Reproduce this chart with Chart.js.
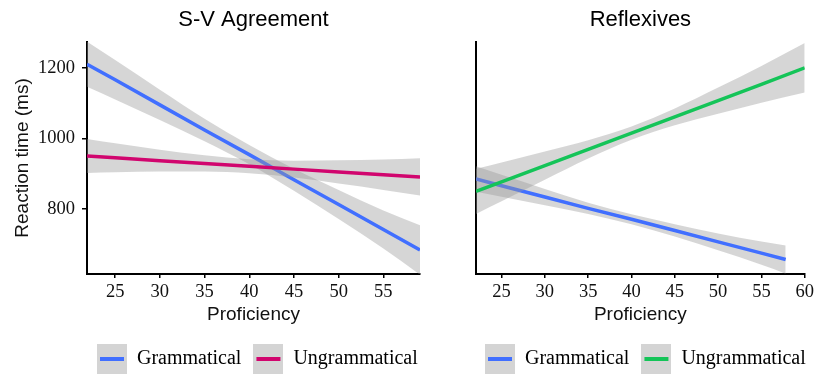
<!DOCTYPE html>
<html>
<head>
<meta charset="utf-8">
<script src="https://cdn.jsdelivr.net/npm/chart.js@4.4.1/dist/chart.umd.min.js"></script>
<style>
  html, body { margin: 0; padding: 0; background: #fff; overflow: hidden; }
  #wrap { position: relative; width: 817px; height: 375px; }
  canvas { position: absolute; top: 0; }
  #c1 { left: 0; }
  #c2 { left: 430px; }
</style>
</head>
<body>
<div id="wrap">
  <canvas id="c1" width="430" height="375"></canvas>
  <canvas id="c2" width="387" height="375"></canvas>
</div>
<script>
// ---- S-V Agreement: fitted reaction time and 95% band, by proficiency ----
const svX        = [21.85, 25, 30, 35, 40, 45, 50, 55, 59.1];
const svGramFit   = [1210, 1166, 1095, 1024, 954, 883, 813, 742, 684];
const svGramUpper = [1274, 1222, 1138, 1056, 981, 914, 854, 796, 754];
const svGramLower = [1146, 1110, 1052,  992, 927, 852, 772, 688, 614];
const svUngFit    = [950, 945, 937, 929, 921, 913, 905, 897, 891];
const svUngUpper  = [998, 986, 968, 952, 941, 937, 938, 940, 944];
const svUngLower  = [902, 904, 906, 906, 901, 889, 872, 854, 838];

// ---- Reflexives ----
const rfGramX     = [22.05, 25, 30, 35, 40, 45, 50, 55, 57.8];
const rfGramFit   = [885, 866, 834, 802, 771, 739, 707, 675, 657];
const rfGramUpper = [921, 897, 857, 818, 785, 757, 731, 708, 697];
const rfGramLower = [849, 835, 811, 786, 757, 722, 683, 642, 617];
const rfUngX      = [22.05, 25, 30, 35, 40, 45, 50, 55, 60];
const rfUngFit    = [850, 877, 923, 969, 1015, 1061, 1107, 1153, 1200];
const rfUngUpper  = [914, 932, 963, 995, 1034, 1085, 1144, 1205, 1270];
const rfUngLower  = [786, 822, 883, 943, 996, 1037, 1070, 1101, 1130];

// ---- axes ----
const yTicks   = [800, 1000, 1200];
const svXTicks = [25, 30, 35, 40, 45, 50, 55];
const rfXTicks = [25, 30, 35, 40, 45, 50, 55, 60];
const yRange   = [616, 1273];
const svXRange = [21.85, 59.1];
const rfXRange = [22.05, 60];

const groupNames = ['Grammatical', 'Ungrammatical'];

const BLUE = '#416fff';
const PINK = '#d1056e';
const GREEN = '#14c458';
const BAND = 'rgba(153,153,153,0.4)';
const SANS = 'Liberation Sans';
const SERIF = 'Liberation Serif';

const pts = (xs, ys) => xs.map((x, i) => ({ x, y: ys[i] }));

function fitLine(xs, ys, color, order) {
  return { data: pts(xs, ys), borderColor: color, borderWidth: 3.5, pointRadius: 0,
           fill: false, tension: 0, clip: 0, order, borderCapStyle: 'butt' };
}
function bandEdge(xs, ys, fill, order) {
  return { data: pts(xs, ys), borderWidth: 0, borderColor: 'rgba(0,0,0,0)', pointRadius: 0,
           backgroundColor: BAND, fill, cubicInterpolationMode: 'monotone', clip: 0, order };
}

// legend key: grey square with the group's line across it
function keyImage(color) {
  const c = document.createElement('canvas');
  c.width = 30; c.height = 30;
  const g = c.getContext('2d');
  g.fillStyle = '#d4d4d4';
  g.fillRect(0, 0, 30, 30);
  g.fillStyle = color;
  g.fillRect(3, 13, 24, 4);
  return c;
}

// place the one-row legend so that its first key starts at legendX
const legendPlace = {
  id: 'legendPlace',
  afterLayout(chart, args, opts) {
    const lg = chart.legend;
    if (!lg) return;
    const pad = lg.options.labels.padding;
    const w = lg.right - lg.left;
    lg.left = opts.x - pad;
    lg.right = lg.left + w;
  }
};

function makePanel(canvasId, title, cfg) {
  const tickFont = { family: SERIF, size: 18.5 };
  const keys = cfg.colors.map(keyImage);
  return new Chart(document.getElementById(canvasId), {
    type: 'line',
    data: {
      datasets: [
        bandEdge(cfg.gx, cfg.gUpper, '+1', 4),
        bandEdge(cfg.gx, cfg.gLower, false, 4),
        fitLine(cfg.gx, cfg.gFit, cfg.colors[0], 3),
        bandEdge(cfg.ux, cfg.uUpper, '+1', 2),
        bandEdge(cfg.ux, cfg.uLower, false, 2),
        fitLine(cfg.ux, cfg.uFit, cfg.colors[1], 1)
      ]
    },
    plugins: [legendPlace],
    options: {
      responsive: false,
      animation: false,
      events: [],
      layout: { padding: { top: 0, left: 0, right: cfg.padRight, bottom: -4 } },
      plugins: {
        legendPlace: { x: cfg.legendX },
        tooltip: { enabled: false },
        title: {
          display: true, text: title, fullSize: false, color: '#000',
          font: { family: SANS, size: 22, weight: 'normal' },
          padding: { top: 7, bottom: 8.6 }
        },
        legend: {
          position: 'bottom', align: 'start',
          labels: {
            usePointStyle: true, pointStyleWidth: 30, padding: 12,
            color: '#000', font: { family: SERIF, size: 20 },
            generateLabels: () => groupNames.map((name, i) => ({
              text: name, pointStyle: keys[i], fontColor: '#000',
              hidden: false, datasetIndex: i === 0 ? 2 : 5, lineWidth: 0
            }))
          }
        }
      },
      scales: {
        x: {
          type: 'linear', min: cfg.xRange[0], max: cfg.xRange[1],
          afterBuildTicks: s => { s.ticks = cfg.xTicks.map(v => ({ value: v })); },
          afterFit: s => { s.height = 63; },
          ticks: { autoSkip: false, maxRotation: 0, color: '#111', font: tickFont, padding: 3,
                   callback: v => String(v) },
          grid: { display: true, drawOnChartArea: false, drawTicks: true, tickLength: 4,
                  color: '#000', lineWidth: 1.5 },
          border: { display: true, color: '#000', width: 2 },
          title: { display: true, text: 'Proficiency', color: '#111',
                   font: { family: SANS, size: 19 }, padding: { top: 11, bottom: 11 } }
        },
        y: {
          type: 'linear', min: yRange[0], max: yRange[1],
          afterBuildTicks: s => { s.ticks = yTicks.map(v => ({ value: v })); },
          afterFit: s => { s.width = cfg.yWidth; },
          ticks: { display: cfg.showY, color: '#111', font: tickFont, padding: 7,
                   callback: v => String(v) },
          grid: { display: cfg.showY, drawOnChartArea: false, drawTicks: cfg.showY, tickLength: 5,
                  color: '#000', lineWidth: 1.5 },
          border: { display: true, color: '#000', width: 2 },
          title: { display: cfg.showY, text: 'Reaction time (ms)', color: '#111',
                   font: { family: SANS, size: 19 }, padding: { top: 11, bottom: 11 } }
        }
      }
    }
  });
}

makePanel('c1', 'S-V Agreement', {
  gx: svX, gFit: svGramFit, gUpper: svGramUpper, gLower: svGramLower,
  ux: svX, uFit: svUngFit, uUpper: svUngUpper, uLower: svUngLower,
  colors: [BLUE, PINK], xRange: svXRange, xTicks: svXTicks,
  yWidth: 87, showY: true, padRight: 10, legendX: 97
});

makePanel('c2', 'Reflexives', {
  gx: rfGramX, gFit: rfGramFit, gUpper: rfGramUpper, gLower: rfGramLower,
  ux: rfUngX, uFit: rfUngFit, uUpper: rfUngUpper, uLower: rfUngLower,
  colors: [BLUE, GREEN], xRange: rfXRange, xTicks: rfXTicks,
  yWidth: 46, showY: false, padRight: 9, legendX: 55
});
</script>
</body>
</html>
